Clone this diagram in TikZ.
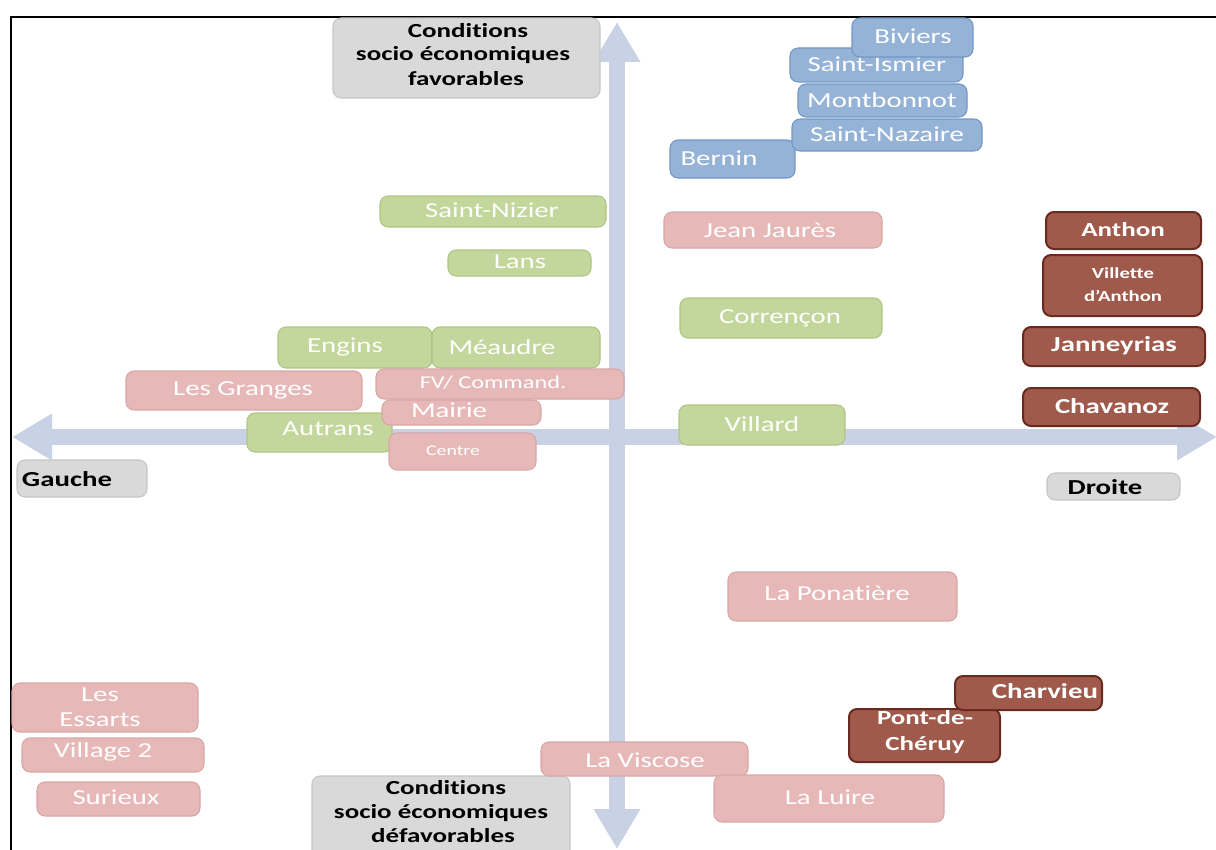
\documentclass[tikz,border=0pt]{standalone}
\usepackage{fontspec}
\setmainfont[FakeStretch=1.35,Ligatures=NoCommon]{Carlito}
\usetikzlibrary{arrows.meta,fit}
\definecolor{bfill}{HTML}{95B3D7}
\definecolor{bdraw}{HTML}{7396C4}
\definecolor{gfill}{HTML}{C3D69B}
\definecolor{gdraw}{HTML}{AFC584}
\definecolor{pfill}{HTML}{E6B9B8}
\definecolor{pdraw}{HTML}{D7A7A6}
\definecolor{rfill}{HTML}{A05A4B}
\definecolor{rdraw}{HTML}{6B2A20}
\definecolor{grfill}{HTML}{D9D9D9}
\definecolor{grdraw}{HTML}{C6C6C6}
\definecolor{axiscol}{HTML}{C9D1E4}
\newcommand{\bx}[6]{\node[#1, fit={(#3,#4) (#5,#6)}] (#2) {};}
\begin{document}
\begin{tikzpicture}[x=0.75pt,y=-0.75pt,
  box/.style={rounded corners=6pt, inner sep=0pt, line width=0.8pt},
  bluebox/.style={box, fill=bfill, draw=bdraw},
  greenbox/.style={box, fill=gfill, draw=gdraw},
  pinkbox/.style={box, fill=pfill, draw=pdraw},
  brownbox/.style={box, fill=rfill, draw=rdraw, line width=1.5pt},
  greybox/.style={box, fill=grfill, draw=grdraw},
  wt/.style={text=white, inner sep=0pt, font=\fontsize{16pt}{19pt}\selectfont},
  wts/.style={text=white, inner sep=0pt, font=\fontsize{11pt}{13pt}\selectfont},
  wtb/.style={text=white, inner sep=0pt, font=\fontsize{16pt}{19pt}\selectfont\bfseries},
  bt/.style={text=black, inner sep=0pt, font=\fontsize{15pt}{18pt}\selectfont\bfseries},
  axis/.style={draw=axiscol, line width=11.5pt, {Triangle[width=33pt,length=30pt]}-{Triangle[width=33pt,length=30pt]}}
]
\useasboundingbox (0,0) rectangle (1216,849);
\clip (0,0) rectangle (1216,849);
% frame
\draw[line width=2.2pt] (11,860) -- (11,17) -- (1220,17);
% axes
\coordinate (htl) at (12,437);
\coordinate (htr) at (1217,437);
\coordinate (vtt) at (617,22);
\coordinate (vtb) at (617,849);
\draw[axis] (htl) -- (htr);
\draw[axis] (vtb) -- (vtt);
% grey labels
\bx{greybox}{gtop}{333}{18}{600}{98}
\node[bt] (t-gtop1) at (468,31) {Conditions};
\node[bt] (t-gtop2) at (463,55) {socio économiques};
\node[bt] (t-gtop3) at (466,79) {favorables};
\bx{greybox}{gbot}{312}{776}{570}{870}
\node[bt] (t-gbot1) at (446,788) {Conditions};
\node[bt] (t-gbot2) at (441,813) {socio économiques};
\node[bt] (t-gbot3) at (443,836) {défavorables};
\bx{greybox}{ggauche}{17}{460}{147}{497}
\node[bt, font=\fontsize{16pt}{18pt}\selectfont\bfseries] (t-gauche) at (67,479) {Gauche};
\bx{greybox}{gdroite}{1047}{473}{1180}{500}
\node[bt, font=\fontsize{16pt}{18pt}\selectfont\bfseries] (t-droite) at (1105,487) {Droite};
% blue
\bx{bluebox}{sism}{790}{48}{963}{82}
\node[wt] (t-sism) at (877,64) {Saint-Ismier};
\bx{bluebox}{biv}{852}{18}{973}{57}
\node[wt] (t-biv) at (913,36) {Biviers};
\bx{bluebox}{mont}{798}{84}{967}{117}
\node[wt] (t-mont) at (882,100) {Montbonnot};
\bx{bluebox}{bern}{670}{140}{795}{178}
\node[wt] (t-bern) at (719,158) {Bernin};
\bx{bluebox}{snaz}{792}{119}{982}{151}
\node[wt] (t-snaz) at (887,134) {Saint-Nazaire};
% green
\bx{greenbox}{sniz}{380}{196}{606}{227}
\node[wt] (t-sniz) at (492,210) {Saint-Nizier};
\bx{greenbox}{lans}{448}{250}{591}{276}
\node[wt] (t-lans) at (520,262) {Lans};
\bx{greenbox}{corr}{680}{298}{882}{338}
\node[wt] (t-corr) at (780,318) {Corrençon};
\bx{greenbox}{engi}{278}{327}{432}{368}
\node[wt] (t-engi) at (345,347) {Engins};
\bx{greenbox}{meau}{432}{327}{600}{368}
\node[wt] (t-meau) at (502,347) {Méaudre};
\bx{greenbox}{autr}{247}{413}{392}{452}
\node[wt] (t-autr) at (328,429) {Autrans};
\bx{greenbox}{vill}{679}{405}{845}{445}
\node[wt] (t-vill) at (762,424) {Villard};
% pink
\bx{pinkbox}{jean}{664}{212}{882}{248}
\node[wt] (t-jean) at (770,230) {Jean Jaurès};
\bx{pinkbox}{gran}{126}{371}{362}{410}
\node[wt] (t-gran) at (243,390) {Les Granges};
\bx{pinkbox}{fvc}{376}{369}{624}{399}
\node[wts, font=\fontsize{13.5pt}{15pt}\selectfont] (t-fvc) at (493,383) {FV/ Command.};
\bx{pinkbox}{mair}{382}{400}{541}{425}
\node[wt] (t-mair) at (449,410) {Mairie};
\bx{pinkbox}{cent}{389}{433}{536}{470}
\node[wts] (t-cent) at (453,451) {Centre};
\bx{pinkbox}{pona}{728}{572}{957}{621}
\node[wt] (t-pona) at (837,593) {La Ponatière};
\bx{pinkbox}{essa}{12}{683}{198}{732}
\node[wt, align=center] (t-essa) at (100,707) {Les\\Essarts};
\bx{pinkbox}{vil2}{22}{738}{204}{772}
\node[wt] (t-vil2) at (103,752) {Village 2};
\bx{pinkbox}{suri}{37}{782}{200}{816}
\node[wt] (t-suri) at (116,797) {Surieux};
\bx{pinkbox}{visc}{541}{742}{748}{776}
\node[wt] (t-visc) at (645,760) {La Viscose};
\bx{pinkbox}{luir}{714}{775}{944}{822}
\node[wt] (t-luir) at (830,797) {La Luire};
% brown
\bx{brownbox}{anth}{1046}{212}{1201}{249}
\node[wtb, font=\fontsize{15pt}{18pt}\selectfont\bfseries] (t-anth) at (1123,230) {Anthon};
\bx{brownbox}{vdan}{1043}{255}{1202}{316}
\node[wts, align=center, font=\fontsize{11.5pt}{17pt}\selectfont\bfseries] (t-vdan) at (1123,285) {Villette\\d'Anthon};
\bx{brownbox}{jann}{1023}{327}{1205}{366}
\node[wtb] (t-jann) at (1114,346) {Janneyrias};
\bx{brownbox}{chav}{1023}{388}{1200}{426}
\node[wtb] (t-chav) at (1112,406) {Chavanoz};
\bx{brownbox}{pont}{849}{709}{1000}{762}
\bx{brownbox}{charv}{955}{676}{1102}{710}
\node[wtb] (t-charv) at (1045,691) {Charvieu};
\node[wtb, align=center, font=\fontsize{15pt}{19pt}\selectfont\bfseries] (t-pont) at (925,732) {Pont-de-\\Chéruy};
\end{tikzpicture}
\end{document}
